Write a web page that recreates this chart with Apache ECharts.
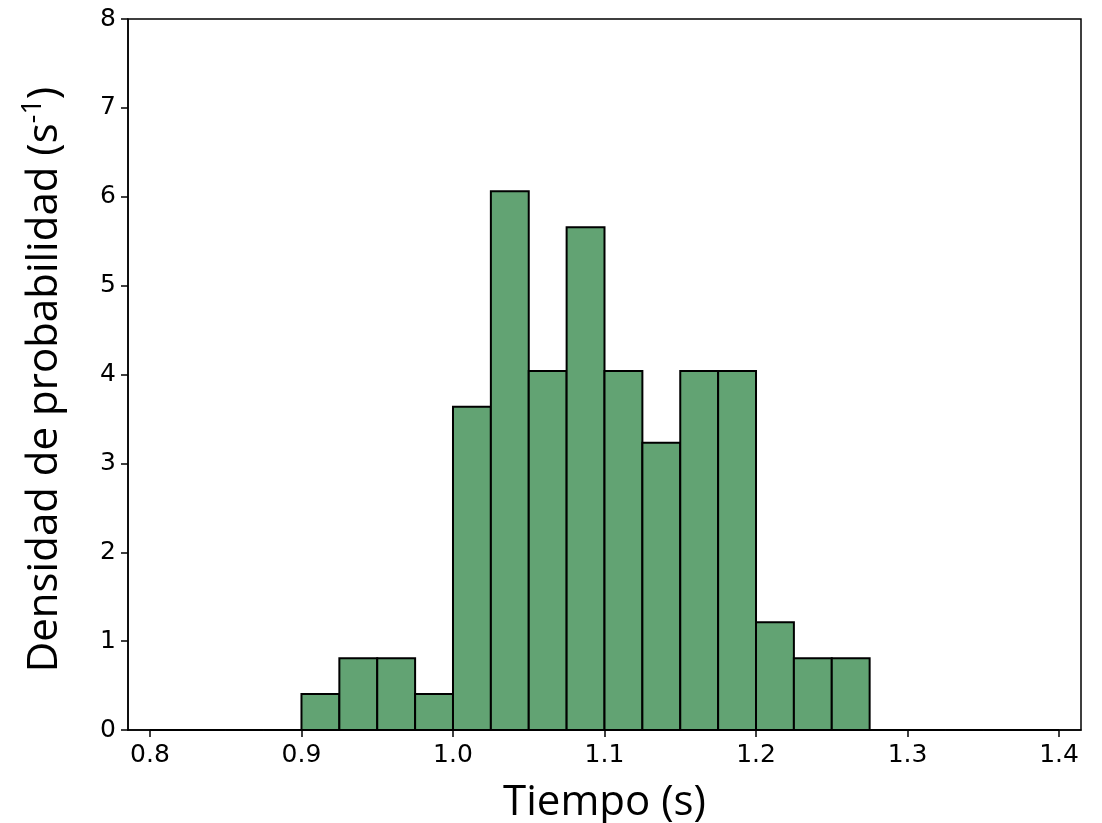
<!DOCTYPE html>
<html>
<head>
<meta charset="utf-8">
<script src="https://cdn.jsdelivr.net/npm/echarts@6/dist/echarts.min.js"></script>
<style>
  html, body { margin: 0; padding: 0; background: #fff; }
  #chart { width: 1102px; height: 823px; }
</style>
</head>
<body>
<div id="chart"></div>
<script>
// histogram bins (left edge), width 0.025
const binLefts = [0.8, 0.825, 0.85, 0.875, 0.9, 0.925, 0.95, 0.975,
  1.0, 1.025, 1.05, 1.075, 1.1, 1.125, 1.15, 1.175,
  1.2, 1.225, 1.25, 1.275, 1.3, 1.325, 1.35, 1.375]
const binWidth = 0.025
const density = [0, 0, 0, 0, 0.404, 0.808, 0.808, 0.404,
  3.636, 6.061, 4.040, 5.657, 4.040, 3.232, 4.040, 4.040,
  1.212, 0.808, 0.808, 0, 0, 0, 0, 0]
const xTicks = [0.8, 0.9, 1.0, 1.1, 1.2, 1.3, 1.4]

const chart = echarts.init(document.getElementById('chart'))

const data = binLefts.map((x, i) => [x, x + binWidth, density[i]])

chart.setOption({
  animation: false,
  grid: {
    left: 128,
    right: 21,
    top: 19,
    bottom: 93,
    outerBoundsMode: 'none',
    containLabel: false,
    show: true,
    borderColor: '#000',
    borderWidth: 1.5,
    backgroundColor: '#fff'
  },
  xAxis: {
    type: 'value',
    min: 0.7855,
    max: 1.4145,
    name: 'Tiempo (s)',
    nameLocation: 'middle',
    nameGap: 52,
    nameTextStyle: { fontFamily: 'Open Sans', fontSize: 42, color: '#000' },
    axisLine: { show: true, onZero: false, lineStyle: { color: '#000', width: 1.5 } },
    axisTick: { show: true, customValues: xTicks, length: 7, lineStyle: { color: '#000', width: 1.5 } },
    axisLabel: {
      customValues: xTicks,
      formatter: v => v.toFixed(1),
      fontFamily: 'DejaVu Sans',
      fontSize: 25,
      color: '#000',
      margin: 13
    },
    splitLine: { show: false }
  },
  yAxis: {
    type: 'value',
    min: 0,
    max: 8,
    interval: 1,
    name: '{a|Densidad de probabilidad (s}{b|-1}{a|)}',
    nameLocation: 'middle',
    nameGap: 58,
    nameRotate: 90,
    nameTextStyle: {
      padding: [0, 10, 0, 0],
      rich: {
        a: { fontFamily: 'Open Sans', fontSize: 42, color: '#000', lineHeight: 50 },
        b: { fontFamily: 'Open Sans', fontSize: 27, color: '#000', verticalAlign: 'top', lineHeight: 50 }
      }
    },
    axisLine: { show: true, lineStyle: { color: '#000', width: 1.5 } },
    axisTick: { show: true, length: 7, lineStyle: { color: '#000', width: 1.5 } },
    axisLabel: {
      fontFamily: 'DejaVu Sans',
      fontSize: 25,
      color: '#000',
      margin: 12
    },
    splitLine: { show: false }
  },
  series: [{
    type: 'custom',
    data: data,
    encode: { x: [0, 1], y: 2 },
    renderItem(params, api) {
      const topLeft = api.coord([api.value(0), api.value(2)])
      const bottomRight = api.coord([api.value(1), 0])
      return {
        type: 'rect',
        shape: {
          x: topLeft[0],
          y: topLeft[1],
          width: bottomRight[0] - topLeft[0],
          height: bottomRight[1] - topLeft[1]
        },
        style: { fill: '#62a373', stroke: '#000', lineWidth: 2 }
      }
    }
  }]
})
</script>
</body>
</html>
